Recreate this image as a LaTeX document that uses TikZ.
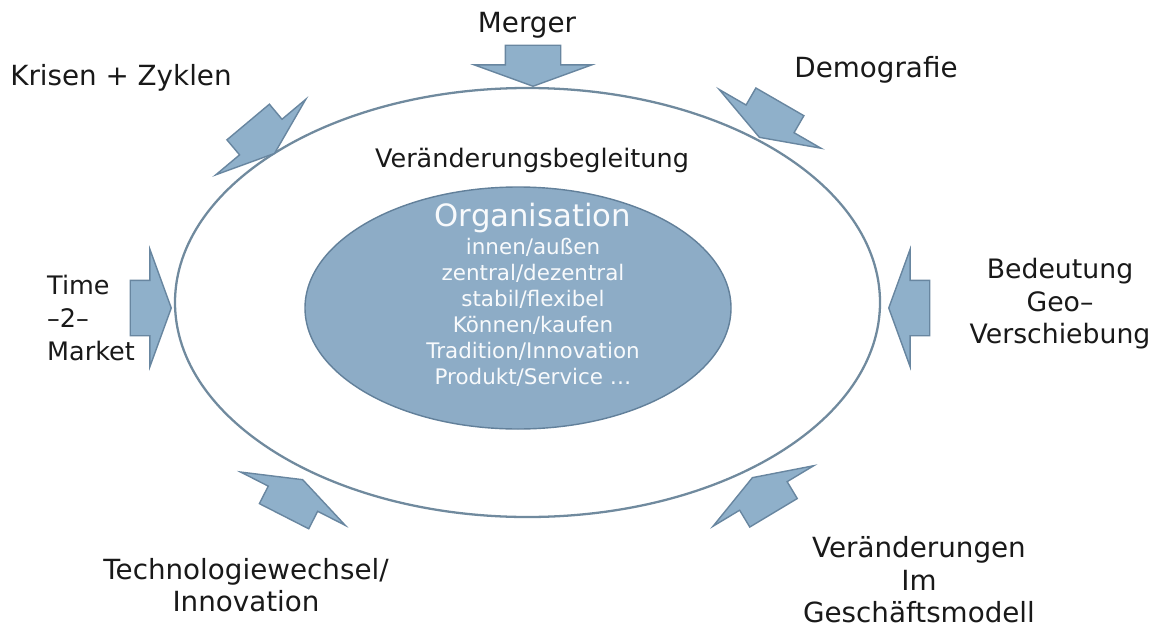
\documentclass[tikz,border=0pt]{standalone}
\usepackage{fontspec}
\setmainfont{DejaVu Sans}
\usetikzlibrary{shapes.geometric, shapes.arrows}
\definecolor{pfeilblau}{RGB}{143,176,202}
\definecolor{pfeilrand}{RGB}{104,134,160}
\definecolor{kernblau}{RGB}{141,172,198}
\definecolor{kernrand}{RGB}{98,128,154}
\definecolor{ringgrau}{RGB}{112,138,158}
\definecolor{schrift}{RGB}{25,25,25}

\begin{document}
\begin{tikzpicture}[
    pfeil/.style={
        single arrow, draw=pfeilrand, fill=pfeilblau, line width=0.8pt,
        inner xsep=0pt, inner ysep=0.54cm, minimum width=0pt,
        minimum height=0.82cm, single arrow head extend=0.62cm,
        single arrow tip angle=140, anchor=tip
    },
    einfluss/.style={font=\fontsize{15.8}{18.5}\selectfont, text=schrift,
                     align=center},
    thema/.style={font=\fontsize{12.2}{14.8}\selectfont,
                  text=white!94!kernblau, align=center}
]
\useasboundingbox (0,0) rectangle (23.16,-12.56);

% --- Ring und Kern ---
\node[ellipse, draw=ringgrau, line width=1.3pt, inner sep=0pt,
      minimum width=14.1cm, minimum height=8.58cm] (ring) at (10.55,-6.05) {};
\node[ellipse, draw=kernrand, fill=kernblau, line width=0.8pt, inner sep=0pt,
      minimum width=8.52cm, minimum height=4.84cm] (kern) at (10.36,-6.16) {};

\node[einfluss, font=\fontsize{14.5}{18}\selectfont] (begleitung)
    at (10.64,-3.20) {Veränderungsbegleitung};

% --- Inhalt der Organisation ---
\node[thema, font=\fontsize{17.5}{20}\selectfont] (orga) at (10.66,-4.36)
    {Organisation};
\node[thema] (gegensaetze) at (10.66,-6.24) {%
    innen/außen\\
    zentral/dezentral\\
    stabil/flexibel\\
    Können/kaufen\\
    Tradition/Innovation\\
    Produkt/Service \dots};

% --- Einflüsse von außen ---
\node[pfeil, rotate=-90] (p-merger) at (10.66,-1.74) {};
\node[pfeil, rotate=-50] (p-krisen) at (5.50,-3.08) {};
\node[pfeil, rotate=-120] (p-demo) at (15.18,-2.76) {};
\node[pfeil] (p-time) at (3.44,-6.16) {};
\node[pfeil, rotate=180] (p-geo) at (17.76,-6.16) {};
\node[pfeil, rotate=63] (p-tech) at (6.06,-9.58) {};
\node[pfeil, rotate=121] (p-modell) at (15.04,-9.54) {};

\node[einfluss] (merger) at (10.54,-0.50) {Merger};
\node[einfluss] (krisen) at (2.42,-1.56) {Krisen + Zyklen};
\node[einfluss] (demo) at (17.52,-1.40) {Demografie};
\node[einfluss, font=\fontsize{14.5}{18.5}\selectfont, align=left,
      anchor=west] (time) at (0.82,-6.36) {Time\\–2–\\Market};
\node[einfluss, font=\fontsize{15.2}{18.5}\selectfont] (geo)
    at (21.20,-6.08) {Bedeutung\\Geo–\\Verschiebung};
\node[einfluss] (tech) at (4.92,-11.70) {Technologiewechsel/\\Innovation};
\node[einfluss] (modell) at (18.38,-11.60)
    {Veränderungen\\Im\\Geschäftsmodell};

\end{tikzpicture}
\end{document}
